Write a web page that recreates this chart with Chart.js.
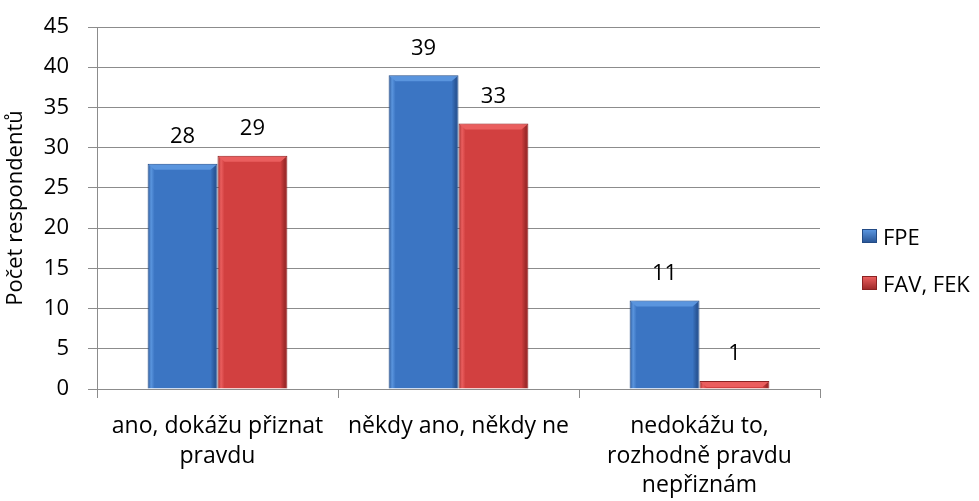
<!DOCTYPE html>
<html>
<head>
<meta charset="utf-8">
<script src="https://cdn.jsdelivr.net/npm/chart.js@4/dist/chart.umd.min.js"></script>
<style>
  html, body { margin: 0; padding: 0; background: #fff; }
  #wrap { position: relative; width: 979px; height: 501px; }
  #legend { position: absolute; left: 862px; top: 224px; font-family: "Open Sans", sans-serif; font-size: 22px; color: #000; }
  .leg-item { display: flex; align-items: center; height: 24px; margin-bottom: 23px; white-space: nowrap; }
  .leg-box { width: 15px; height: 14px; margin-right: 6px; box-sizing: border-box; }
</style>
</head>
<body>
<div id="wrap">
  <canvas id="chart" width="979" height="501"></canvas>
  <div id="legend"></div>
</div>
<script>
// Chart data
const categories = [
    ['ano, dokážu přiznat', 'pravdu'],
    ['někdy ano, někdy ne'],
    ['nedokážu to,', 'rozhodně pravdu', 'nepřiznám']
];
const seriesNames = ['FPE', 'FAV, FEK'];
const fpeValues = [28, 39, 11];
const favFekValues = [29, 33, 1];
const yTicks = [0, 5, 10, 15, 20, 25, 30, 35, 40, 45];

const FONT = '"Open Sans", sans-serif';

// bevel colours per dataset: light edge, middle, dark edge
const shades = [
    ['#5a95de', '#3b75c3', '#2a5798'],
    ['#ea5e5e', '#d24040', '#a02b2b']
];

// Horizontal gradient on each bar, set just before drawing
const bevelBars = {
    id: 'bevelBars',
    beforeDatasetsDraw(chart) {
        const ctx = chart.ctx;
        chart.data.datasets.forEach((ds, i) => {
            const [light, mid, dark] = shades[i];
            chart.getDatasetMeta(i).data.forEach(bar => {
                const l = bar.x - bar.width / 2;
                const r = bar.x + bar.width / 2;
                const g = ctx.createLinearGradient(l, 0, r, 0);
                g.addColorStop(0, dark);
                g.addColorStop(0.05, light);
                g.addColorStop(0.1, mid);
                g.addColorStop(0.9, mid);
                g.addColorStop(0.96, dark);
                g.addColorStop(1, dark);
                bar.options.backgroundColor = g;
            });
        });
    },
    afterDatasetsDraw(chart) {
        // light strip along the top edge of every bar
        const ctx = chart.ctx;
        ctx.save();
        chart.data.datasets.forEach((ds, i) => {
            chart.getDatasetMeta(i).data.forEach(bar => {
                const h = Math.min(6, bar.base - bar.y);
                const l = bar.x - bar.width / 2 + 1;
                const r = bar.x + bar.width / 2 - 1;
                ctx.fillStyle = shades[i][0];
                ctx.beginPath();
                ctx.moveTo(l, bar.y + 1);
                ctx.lineTo(r, bar.y + 1);
                ctx.lineTo(r - h, bar.y + h);
                ctx.lineTo(l + h, bar.y + h);
                ctx.closePath();
                ctx.fill();
            });
        });
        ctx.restore();
    }
};

// Value labels above bars
const valueLabels = {
    id: 'valueLabels',
    afterDatasetsDraw(chart) {
        const ctx = chart.ctx;
        ctx.save();
        ctx.font = '22px ' + FONT;
        ctx.fillStyle = '#000';
        ctx.textAlign = 'center';
        ctx.textBaseline = 'middle';
        chart.data.datasets.forEach((ds, i) => {
            chart.getDatasetMeta(i).data.forEach((bar, j) => {
                ctx.fillText(ds.data[j], bar.x, bar.y - 27);
            });
        });
        ctx.restore();
    }
};

const chart = new Chart(document.getElementById('chart'), {
    type: 'bar',
    data: {
        labels: categories,
        datasets: [
            {
                label: seriesNames[0],
                data: fpeValues,
                // scriptable so every bar keeps its own options object
                backgroundColor: c => shades[0][1],
                borderColor: '#234b85',
                borderWidth: 1
            },
            {
                label: seriesNames[1],
                data: favFekValues,
                backgroundColor: c => shades[1][1],
                borderColor: '#8a2222',
                borderWidth: 1
            }
        ]
    },
    options: {
        responsive: false,
        animation: false,
        layout: { padding: { top: 0, right: 159, left: 0, bottom: 0 } },
        datasets: {
            bar: { categoryPercentage: 0.58, barPercentage: 1.0 }
        },
        plugins: {
            legend: { display: false },
            tooltip: { enabled: false }
        },
        scales: {
            x: {
                offset: true,
                grid: {
                    offset: true,
                    drawOnChartArea: false,
                    drawTicks: true,
                    tickLength: 9,
                    color: '#8c8c8c'
                },
                border: { color: '#8c8c8c' },
                ticks: {
                    color: '#000',
                    font: { family: FONT, size: 23, lineHeight: 1.28 },
                    padding: 14,
                    maxRotation: 0
                },
                afterFit: s => { s.height = 112; }
            },
            y: {
                min: 0,
                max: 45,
                afterBuildTicks: s => { s.ticks = yTicks.map(v => ({ value: v })); },
                grid: {
                    color: '#8c8c8c',
                    tickLength: 9
                },
                border: { color: '#8c8c8c' },
                ticks: {
                    color: '#000',
                    font: { family: FONT, size: 22 },
                    padding: 19
                },
                title: {
                    display: true,
                    text: 'Počet respondentů',
                    color: '#000',
                    font: { family: FONT, size: 22 },
                    padding: { top: 3, bottom: 0 }
                },
                afterFit: s => {
                    s.width = 97;
                    s.paddingTop = 27;
                }
            }
        }
    },
    plugins: [bevelBars, valueLabels]
});

// Legend on the right
function renderLegend() {
    const legend = document.getElementById('legend');
    legend.innerHTML = '';
    chart.data.datasets.forEach((ds, i) => {
        const item = document.createElement('div');
        item.className = 'leg-item';
        item.innerHTML = `<span class="leg-box" style="background: linear-gradient(to bottom, ${shades[i][0]}, ${shades[i][2]}); border: 1px solid ${ds.borderColor};"></span><span>${ds.label}</span>`;
        legend.appendChild(item);
    });
}
renderLegend();
</script>
</body>
</html>
